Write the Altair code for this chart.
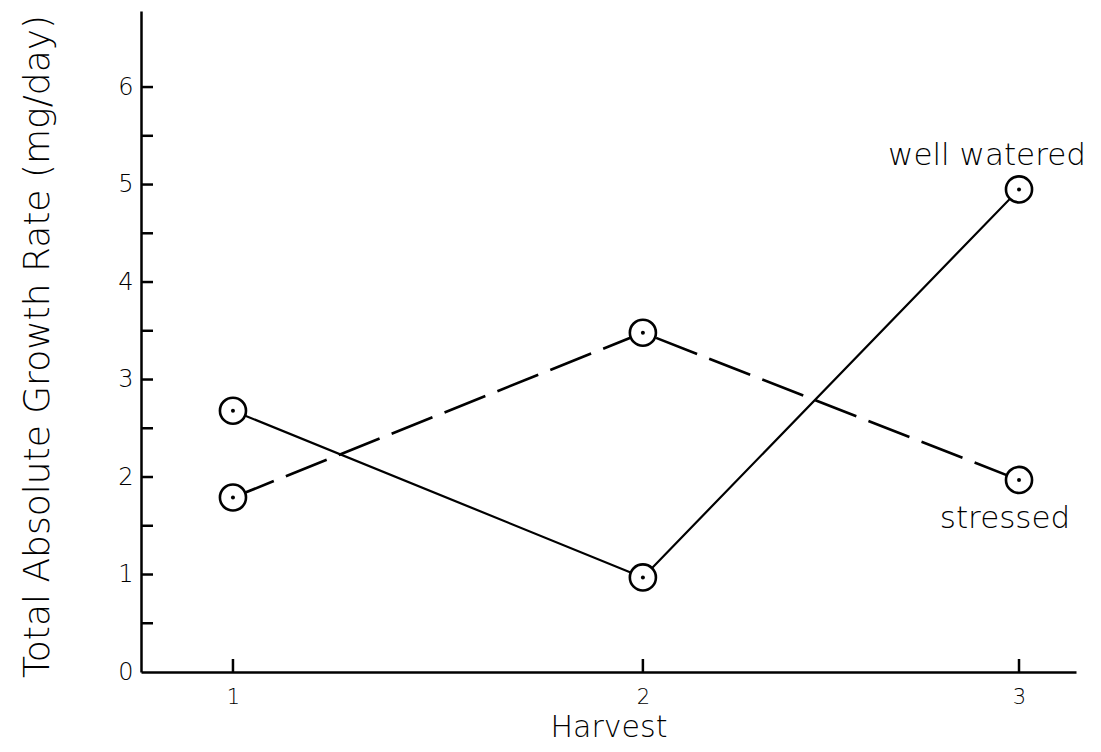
import altair as alt
import pandas as pd

harvests = [1, 2, 3]
# drawn horizontal position of each harvest in the original figure (harvest 2 sits slightly right of centre)
harvest_positions = [1.0, 2.043, 3.0]
well_watered = [2.68, 0.97, 4.95]
stressed = [1.79, 3.48, 1.97]
series_names = ["well watered", "stressed"]
y_tick_values = [0.5 * i for i in range(1, 13)]
y_label_values = [0, 1, 2, 3, 4, 5, 6]

FONT = "DejaVu Sans"
W, H = 935, 661

rows = []
for h, p, v in zip(harvests, harvest_positions, well_watered):
    rows.append({"harvest": h, "pos": p, "value": v, "series": series_names[0]})
for h, p, v in zip(harvests, harvest_positions, stressed):
    rows.append({"harvest": h, "pos": p, "value": v, "series": series_names[1]})
df = pd.DataFrame(rows)

xs = alt.Scale(domain=[0.766, 3.145], nice=False, zero=False)
ys = alt.Scale(domain=[0, 6.78], nice=False, zero=False)

label_expr = ("datum.value < 1.5 ? '1' : (datum.value < 2.5 ? '2' : '3')")

x_enc = alt.X("pos:Q", scale=xs, axis=alt.Axis(
    values=harvest_positions, ticks=False, grid=False, domainColor="black", domainWidth=2.5,
    labelFont=FONT, labelFontSize=21, labelFontWeight=200, labelColor="black", labelPadding=14,
    labelExpr=label_expr,
    title="Harvest", titleFont=FONT, titleFontSize=30, titleFontWeight=200,
    titleColor="black", titlePadding=5))
y_enc = alt.Y("value:Q", scale=ys, axis=alt.Axis(
    values=y_label_values, ticks=False, grid=False, domainColor="black", domainWidth=2.5,
    labelFont=FONT, labelFontSize=24, labelFontWeight=200, labelColor="black", labelPadding=8,
    format="d",
    title="Total Absolute Growth Rate (mg/day)", titleFont=FONT, titleFontSize=36,
    titleFontWeight=200, titleColor="black", titleX=-104, titleY=335, titleAlign="center",
    titleBaseline="middle"))

base = alt.Chart(df)

line_ww = base.transform_filter(alt.datum.series == series_names[0]).mark_line(
    color="black", strokeWidth=2.2).encode(x=x_enc, y=y_enc)
line_st = base.transform_filter(alt.datum.series == series_names[1]).mark_line(
    color="black", strokeWidth=2.6, strokeDash=[44, 13]).encode(x="pos:Q", y="value:Q")

rings = base.mark_point(shape="circle", filled=True, fill="white", stroke="black",
                        strokeWidth=2.6, size=680, opacity=1).encode(x="pos:Q", y="value:Q")
dots = base.mark_circle(color="black", size=16, opacity=1).encode(x="pos:Q", y="value:Q")

ytick_df = pd.DataFrame({"t": y_tick_values})
yticks = alt.Chart(ytick_df).mark_rule(color="black", strokeWidth=2.5).encode(
    y=alt.Y("t:Q", scale=ys), x=alt.value(0), x2=alt.value(12))

xtick_df = pd.DataFrame({"t": harvest_positions})
xticks = alt.Chart(xtick_df).mark_rule(color="black", strokeWidth=2.5).encode(
    x=alt.X("t:Q", scale=xs), y=alt.value(H), y2=alt.value(H - 13))

lab_ww = base.transform_filter(
    (alt.datum.series == series_names[0]) & (alt.datum.harvest == 3)
).mark_text(font=FONT, fontSize=31, fontWeight=200, color="black", dx=-32, dy=-33).encode(
    x="pos:Q", y="value:Q", text="series:N")
lab_st = base.transform_filter(
    (alt.datum.series == series_names[1]) & (alt.datum.harvest == 3)
).mark_text(font=FONT, fontSize=31, fontWeight=200, color="black", dx=-14, dy=39).encode(
    x="pos:Q", y="value:Q", text="series:N")

chart = alt.layer(line_ww, line_st, rings, dots, yticks, xticks, lab_ww, lab_st).properties(
    width=W, height=H,
    background="white",
    autosize=alt.AutoSizeParams(type="none"),
    padding={"left": 133, "top": 3, "right": 17, "bottom": 72},
).configure_view(stroke=None)

chart.save("out.html", embed_options={"renderer": "svg", "actions": False})
